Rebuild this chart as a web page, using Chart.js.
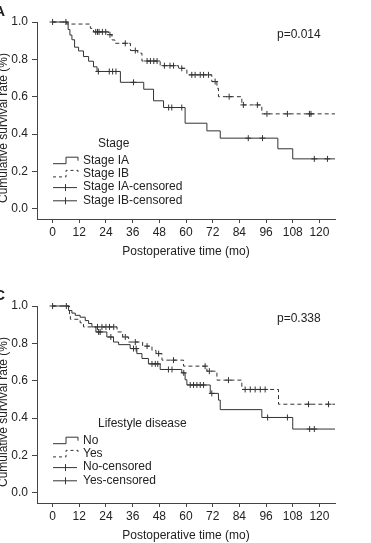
<!DOCTYPE html>
<html>
<head>
<meta charset="utf-8">
<script src="https://cdn.jsdelivr.net/npm/chart.js@4"></script>
<style>
  html, body { margin: 0; padding: 0; background: #fff; }
  body { width: 371px; height: 543px; position: relative; overflow: hidden; }
  canvas { position: absolute; left: 0; }
  #chartA { top: 0; }
  #chartC { top: 284px; }
</style>
</head>
<body>
<canvas id="chartA" width="371" height="259"></canvas>
<canvas id="chartC" width="371" height="259"></canvas>
<script>
// axis ticks
const xTicks = [0, 12, 24, 36, 48, 60, 72, 84, 96, 108, 120];
const yTicks = [0, 0.2, 0.4, 0.6, 0.8, 1.0];
const followUpEnd = 127;

// Panel A: stage (event times in months, survival after each step)
const stageIATime = [0, 7.0, 7.8, 8.7, 9.9, 11.7, 13.9, 16.2, 18.4, 20.0, 30.5, 41.0, 45.4, 49.9, 59.6, 69.4, 75.4, 101.3, 108.0];
const stageIASurv = [1.0, 0.96, 0.93, 0.905, 0.865, 0.845, 0.815, 0.79, 0.76, 0.735, 0.677, 0.64, 0.578, 0.542, 0.458, 0.417, 0.378, 0.321, 0.267];
const stageIACens = [0, 20.6, 25.5, 27.0, 28.5, 36.4, 52.2, 53.6, 58.1, 88.0, 94.4, 117.7, 123.6];

const stageIBTime = [0, 6.4, 17.0, 18.4, 25.2, 26.7, 28.0, 35.0, 38.3, 40.2, 48.4, 56.6, 60.4, 71.6, 73.9, 74.6, 85.1, 94.1];
const stageIBSurv = [1.0, 0.989, 0.966, 0.947, 0.932, 0.904, 0.886, 0.847, 0.833, 0.791, 0.766, 0.752, 0.717, 0.681, 0.645, 0.6, 0.556, 0.508];
const stageIBCens = [6.0, 19.4, 20.2, 20.9, 22.4, 23.9, 25.8, 32.7, 37.2, 42.5, 44.0, 45.5, 47.0, 50.3, 52.8, 54.4, 58.1, 62.6, 64.1, 66.4, 67.9, 70.1, 73.1, 79.4, 85.8, 92.1, 96.4, 105.6, 115.5, 116.2];

const stageLegendTitle = "Stage";
const stageLabels = ["Stage IA", "Stage IB", "Stage IA-censored", "Stage IB-censored"];
const stagePValue = "p=0.014";

// Panel C: lifestyle disease
const noTime = [0, 7.2, 8.7, 10.2, 12.4, 14.7, 16.2, 17.7, 19.5, 24.4, 27.4, 29.7, 34.9, 37.9, 40.2, 43.1, 48.4, 58.1, 59.6, 60.4, 70.9, 74.6, 75.4, 94.1, 108.0];
const noSurv = [1.0, 0.976, 0.962, 0.95, 0.94, 0.922, 0.906, 0.888, 0.861, 0.834, 0.807, 0.793, 0.772, 0.745, 0.719, 0.69, 0.66, 0.642, 0.605, 0.577, 0.532, 0.496, 0.445, 0.403, 0.341];
const noCens = [0, 6.2, 20.7, 21.4, 26.2, 36.4, 37.6, 44.7, 46.2, 47.3, 52.1, 53.7, 59.0, 61.9, 63.4, 64.9, 66.4, 67.9, 71.6, 96.7, 105.6, 115.6, 117.7];

const yesTime = [0, 7.6, 8.0, 12.4, 13.9, 29.0, 31.5, 34.2, 40.5, 44.7, 46.5, 49.2, 58.9, 69.4, 73.9, 85.1, 101.6];
const yesSurv = [1.0, 0.95, 0.929, 0.91, 0.888, 0.861, 0.834, 0.807, 0.785, 0.762, 0.745, 0.71, 0.678, 0.651, 0.603, 0.553, 0.474];
const yesCens = [20.2, 22.2, 24.0, 25.6, 27.5, 32.7, 37.2, 42.5, 47.7, 54.4, 68.6, 70.5, 79.1, 86.6, 88.9, 91.1, 93.4, 95.6, 115.1, 124.1];

const lifestyleLegendTitle = "Lifestyle disease";
const lifestyleLabels = ["No", "Yes", "No-censored", "Yes-censored"];
const lifestylePValue = "p=0.338";

const xTitle = "Postoperative time (mo)";
const yTitle = "Cumulative survival rate (%)";

const INK = "#222";
const LINE = "#333";
const FONT = "'Liberation Sans', Arial, sans-serif";
const DASH = [4, 3];

function survAt(times, surv, t) {
  let s = surv[0];
  for (let i = 0; i < times.length; i++) if (times[i] <= t) s = surv[i];
  return s;
}

function curve(times, surv) {
  const pts = times.map((t, i) => ({ x: t, y: surv[i] }));
  pts.push({ x: followUpEnd, y: surv[surv.length - 1] });
  return pts;
}

function censored(times, surv, cens) {
  return cens.map((t) => ({ x: t, y: survAt(times, surv, t) }));
}

// draws panel letter, p value, legend and the rotated y title
const kmDecor = {
  id: "kmDecor",
  afterDraw(chart, args, o) {
    const ctx = chart.ctx;
    ctx.save();
    ctx.fillStyle = INK;
    ctx.strokeStyle = LINE;
    ctx.lineWidth = 1;

    ctx.font = "bold 15px " + FONT;
    ctx.textAlign = "right";
    ctx.textBaseline = "middle";
    ctx.fillText(o.panel, 5, 12);

    ctx.font = "12px " + FONT;
    ctx.textAlign = "left";
    ctx.fillText(o.pValue, 277, 34.5);

    // y title, mostly cut off by the left edge
    ctx.save();
    ctx.translate(7, 128);
    ctx.rotate(-Math.PI / 2);
    ctx.textAlign = "center";
    ctx.textBaseline = "alphabetic";
    ctx.fillText(yTitle, 0, 0);
    ctx.restore();

    // legend
    const top = o.legendTop;
    ctx.fillText(o.legendTitle, 98, top);
    o.labels.forEach((label, i) => {
      const y = top + 16.7 + i * 13.2;
      ctx.fillText(label, 83, y);
      ctx.beginPath();
      if (i < 2) {
        ctx.setLineDash(i === 1 ? [3, 3] : []);
        ctx.moveTo(53, y + 3);
        ctx.lineTo(66, y + 3);
        ctx.lineTo(66, y - 3.5);
        ctx.lineTo(78, y - 3.5);
        ctx.lineTo(78, y);
      } else {
        ctx.setLineDash([]);
        ctx.moveTo(53, y + 0.5);
        ctx.lineTo(77, y + 0.5);
        ctx.moveTo(65.5, y - 3);
        ctx.lineTo(65.5, y + 4);
      }
      ctx.stroke();
    });
    ctx.restore();
  },
};

function makeChart(id, groups, decor) {
  const datasets = [];
  groups.forEach((g) => {
    datasets.push({
      type: "line",
      data: curve(g.time, g.surv),
      stepped: "before",
      borderColor: LINE,
      borderWidth: 1,
      borderDash: g.dashed ? DASH : [],
      pointRadius: 0,
      fill: false,
      clip: false,
    });
    datasets.push({
      type: "scatter",
      data: censored(g.time, g.surv, g.cens),
      pointStyle: "cross",
      pointRadius: 3,
      borderColor: LINE,
      borderWidth: 1,
      clip: false,
    });
  });

  return new Chart(document.getElementById(id), {
    type: "line",
    data: { datasets },
    plugins: [kmDecor],
    options: {
      responsive: false,
      animation: false,
      layout: { padding: { top: 22, right: 36, left: 0, bottom: 0 } },
      plugins: {
        legend: { display: false },
        tooltip: { enabled: false },
        kmDecor: decor,
      },
      scales: {
        x: {
          type: "linear",
          min: -7,
          max: followUpEnd,
          afterBuildTicks: (s) => { s.ticks = xTicks.map((v) => ({ value: v })); },
          afterFit: (s) => { s.height = 40; },
          grid: { drawOnChartArea: false, drawTicks: true, tickLength: 4, color: "#444" },
          border: { color: "#444", width: 1 },
          ticks: { color: INK, padding: 2, maxRotation: 0, font: { family: FONT, size: 12 } },
          title: { display: true, text: xTitle, color: INK, padding: 0, font: { family: FONT, size: 12 } },
        },
        y: {
          type: "linear",
          min: -0.055,
          max: 1.0,
          afterBuildTicks: (s) => { s.ticks = yTicks.map((v) => ({ value: v })); },
          afterFit: (s) => { s.width = 37; },
          grid: { drawOnChartArea: false, drawTicks: true, tickLength: 5, color: "#444" },
          border: { color: "#444", width: 1 },
          ticks: { color: INK, padding: 4, callback: (v) => v.toFixed(1), font: { family: FONT, size: 12 } },
        },
      },
    },
  });
}

makeChart("chartA", [
  { time: stageIATime, surv: stageIASurv, cens: stageIACens, dashed: false },
  { time: stageIBTime, surv: stageIBSurv, cens: stageIBCens, dashed: true },
], { panel: "A", pValue: stagePValue, legendTitle: stageLegendTitle, labels: stageLabels, legendTop: 144 });

makeChart("chartC", [
  { time: noTime, surv: noSurv, cens: noCens, dashed: false },
  { time: yesTime, surv: yesSurv, cens: yesCens, dashed: true },
], { panel: "C", pValue: lifestylePValue, legendTitle: lifestyleLegendTitle, labels: lifestyleLabels, legendTop: 140 });
</script>
</body>
</html>
